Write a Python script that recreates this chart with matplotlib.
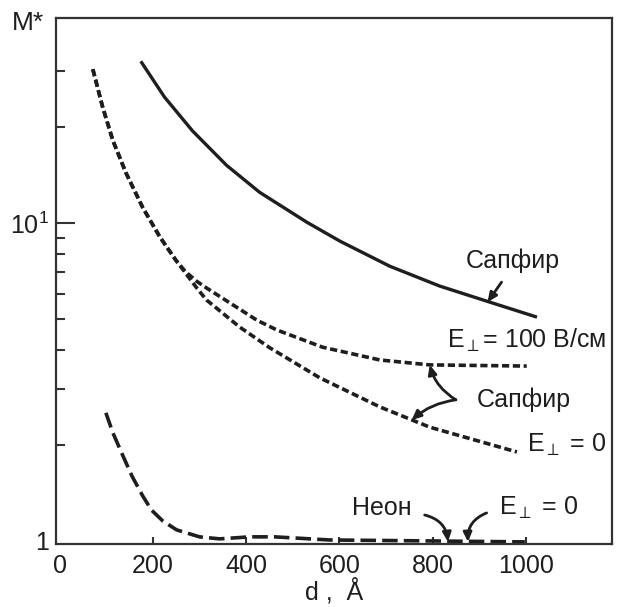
import matplotlib
matplotlib.use("Agg")
import matplotlib.pyplot as plt
from matplotlib import font_manager
from matplotlib.ticker import FixedLocator, NullFormatter

# values (d in angstrom, M* on log scale)
sapphire_d = [174, 225, 285, 358, 429, 530, 601, 708, 815, 923, 1024]
sapphire_m = [32.3, 24.9, 19.5, 15.2, 12.5, 10.07, 8.78, 7.32, 6.34, 5.64, 5.06]

e100_d = [71, 92, 114, 142, 178, 215, 249, 270, 294, 315, 423, 466, 564, 687, 794, 1002]
e100_m = [30.5, 23.2, 18.2, 14.4, 11.2, 9.04, 7.65, 7.03, 6.56, 6.25, 4.95, 4.61, 4.07, 3.71, 3.58, 3.55]

e0_d = [71, 92, 114, 142, 178, 215, 249, 294, 315, 386, 451, 558, 687, 794, 981]
e0_m = [30.5, 23.2, 18.2, 14.4, 11.2, 9.04, 7.65, 6.25, 5.73, 4.71, 4.05, 3.26, 2.64, 2.28, 1.905]

neon_d = [99, 114, 133, 155, 178, 197, 221, 251, 300, 343, 408, 461, 579, 794, 998]
neon_m = [2.53, 2.19, 1.89, 1.60, 1.386, 1.25, 1.156, 1.083, 1.03, 1.015, 1.03, 1.03, 1.007, 1.0, 0.993]

xticks = [0, 200, 400, 600, 800, 1000]
yticks = [1, 10]
yticklabels = ["1", "$10^1$"]
yminor = [2, 3, 4, 5, 6, 7, 8, 9, 20, 30]

names = {f.name for f in font_manager.fontManager.ttflist}
fam = "Liberation Sans" if "Liberation Sans" in names else "DejaVu Sans"
plt.rcParams['font.family'] = [fam, 'DejaVu Sans']
plt.rcParams['mathtext.fontset'] = 'custom'
plt.rcParams['mathtext.rm'] = fam
plt.rcParams['mathtext.it'] = fam
plt.rcParams['mathtext.fallback'] = 'stixsans'

ink = '#1e1e1e'
fs = 18

fig = plt.figure(figsize=(6.23, 6.07), dpi=100)
ax = fig.add_axes([56/623, 1-544/607, 556/623, 526/607])
ax.set_yscale('log')
ax.set_xlim(-8, 1185)
ax.set_ylim(0.978, 44.2)

ax.plot(sapphire_d, sapphire_m, color=ink, lw=2.4, solid_capstyle='butt', solid_joinstyle='round')
ax.plot(e100_d, e100_m, color=ink, lw=2.6, linestyle=(0, (2.0, 1.0)))
ax.plot(e0_d, e0_m, color=ink, lw=2.6, linestyle=(0, (2.0, 1.0)))
ax.plot(neon_d, neon_m, color=ink, lw=2.6, linestyle=(0, (4.3, 1.7)))

for s in ax.spines.values():
    s.set_linewidth(1.6)
    s.set_color('#333333')

ax.xaxis.set_major_locator(FixedLocator(xticks))
ax.yaxis.set_major_locator(FixedLocator(yticks))
ax.set_yticklabels(yticklabels)
ax.yaxis.set_minor_locator(FixedLocator(yminor))
ax.yaxis.set_minor_formatter(NullFormatter())
ax.xaxis.set_minor_locator(FixedLocator([]))
ax.tick_params(axis='x', direction='in', length=5, width=1.5, labelsize=fs, pad=7, colors='#333333', labelcolor=ink)
ax.tick_params(axis='y', which='major', direction='in', length=14, width=1.5, labelsize=fs, pad=5, colors='#333333', labelcolor=ink)
ax.tick_params(axis='y', which='minor', direction='in', length=6.5, width=1.5, colors='#333333')
ax.xaxis.get_major_ticks()[0].tick1line.set_visible(False)
ax.yaxis.get_major_ticks()[0].tick1line.set_visible(False)

ax.set_xlabel('d ,  Å', fontsize=fs, color=ink, labelpad=0)
ax.set_ylabel('M*', fontsize=19, color=ink, rotation=0, ha='center', va='center')
ax.yaxis.set_label_coords(-0.05, 0.99)

ep = r'E$_{\perp}$'
ax.text(972, 7.6, 'Сапфир', fontsize=fs, color=ink, ha='center', va='center')
ax.text(830, 4.04, ep + '= 100 В/см', fontsize=fs, color=ink, ha='left', va='baseline')
ax.text(895, 2.64, 'Сапфир', fontsize=fs, color=ink, ha='left', va='baseline')
ax.text(1002, 1.905, ep + ' = 0', fontsize=fs, color=ink, ha='left', va='baseline')
ax.text(755, 1.207, 'Неон', fontsize=fs, color=ink, ha='right', va='baseline')
ax.text(942, 1.207, ep + ' = 0', fontsize=fs, color=ink, ha='left', va='baseline')

arrow = dict(arrowstyle='-|>,head_length=0.55,head_width=0.25', color=ink, lw=2.0,
             shrinkA=0, shrinkB=0)
ax.annotate('', xy=(918, 5.64), xytext=(948, 6.52), arrowprops=arrow)
ax.annotate('', xy=(794, 3.58), xytext=(850, 2.78),
            arrowprops=dict(arrow, connectionstyle='arc3,rad=-0.2'))
ax.annotate('', xy=(755, 2.40), xytext=(850, 2.78),
            arrowprops=dict(arrow, connectionstyle='arc3,rad=0.15'))
ax.annotate('', xy=(833, 0.993), xytext=(783, 1.207),
            arrowprops=dict(arrow, connectionstyle='arc3,rad=-0.35'))
ax.annotate('', xy=(876, 0.993), xytext=(916, 1.225),
            arrowprops=dict(arrow, connectionstyle='arc3,rad=0.35'))

fig.savefig('out.png', dpi=100)
